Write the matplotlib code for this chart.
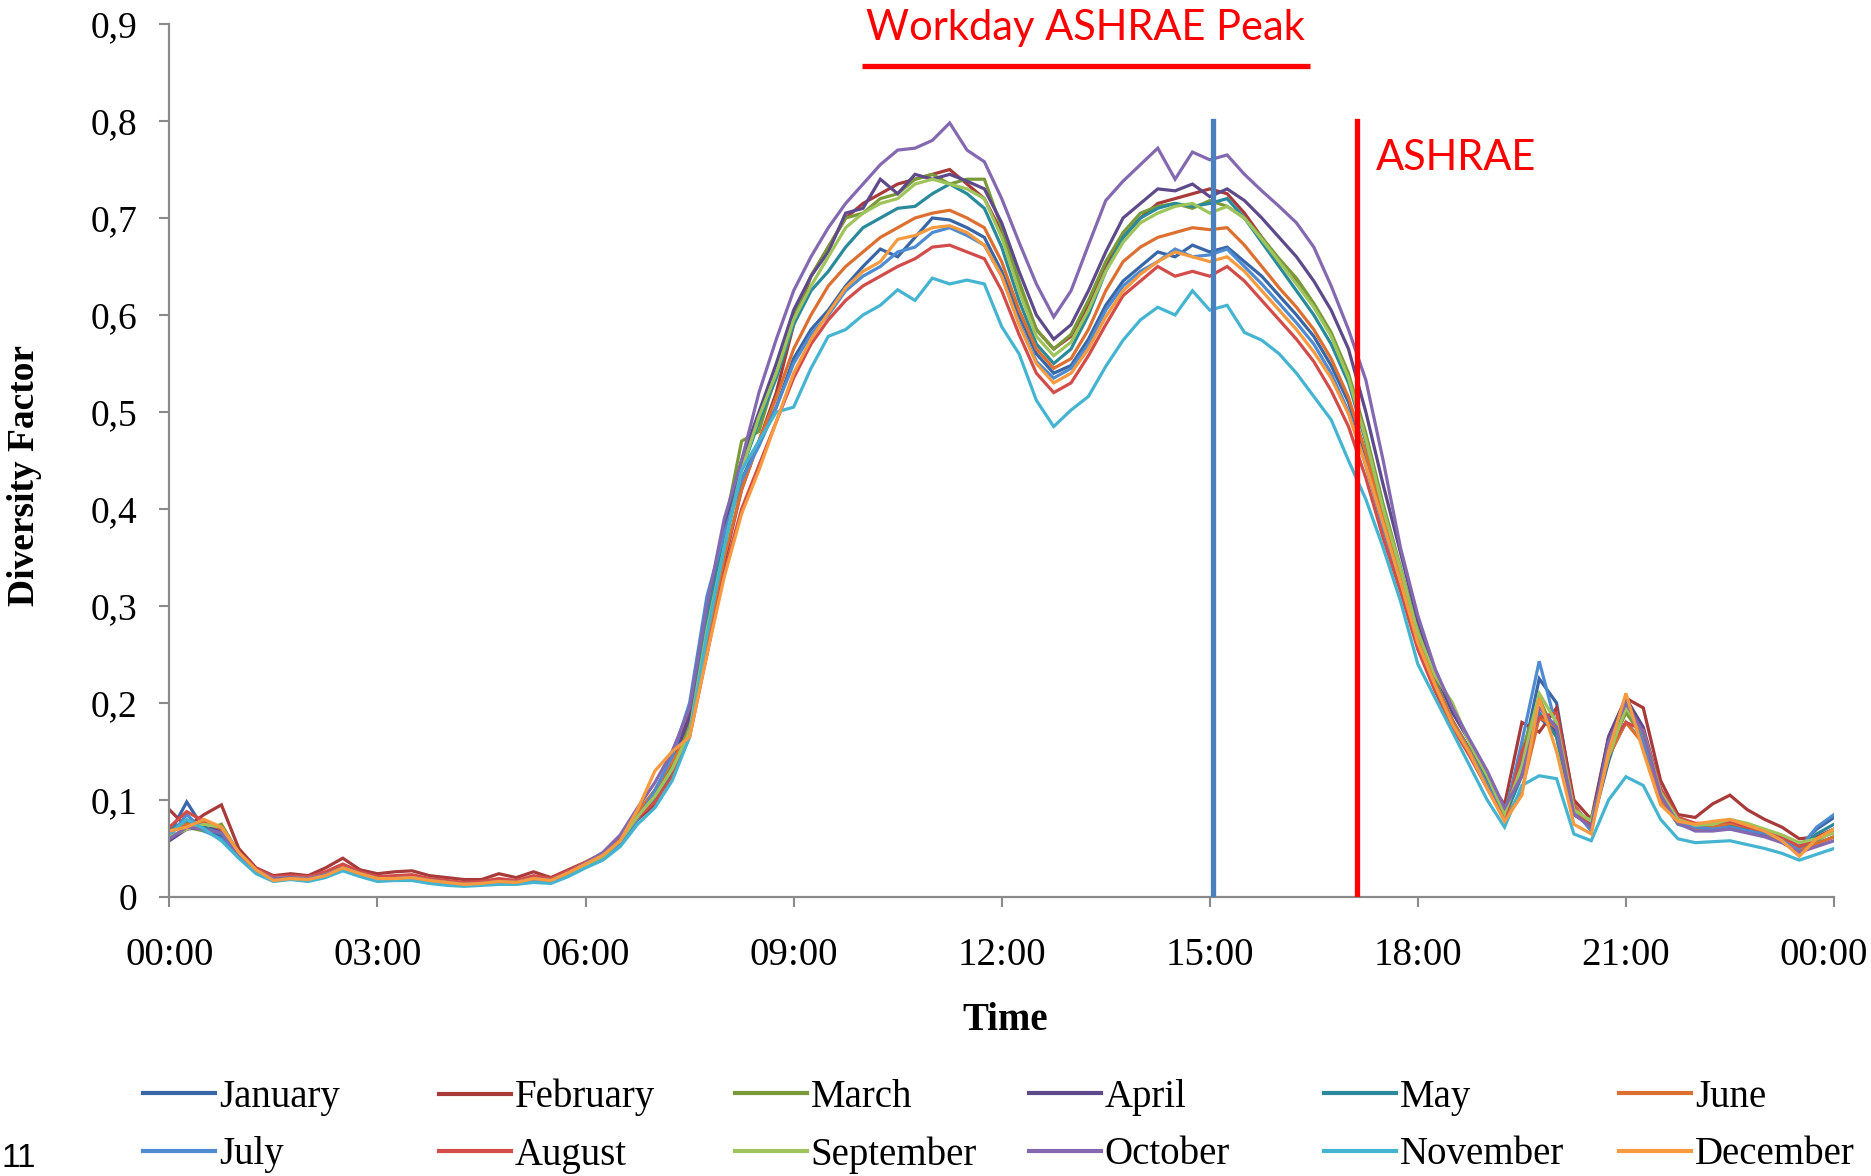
import numpy as np
import matplotlib
matplotlib.use("Agg")
import matplotlib.pyplot as plt
import matplotlib.transforms as mtransforms

# ---------------- data (15-minute resolution, 00:00 -> 24:00) ----------------
months = ["January", "February", "March", "April", "May", "June",
          "July", "August", "September", "October", "November", "December"]

january = [0.065, 0.098, 0.070, 0.062, 0.042, 0.026, 0.019, 0.022, 0.018, 0.022, 0.030, 0.024,
           0.019, 0.021, 0.019, 0.017, 0.015, 0.013, 0.014, 0.016, 0.015, 0.018, 0.017, 0.024,
           0.033, 0.042, 0.058, 0.080, 0.100, 0.130, 0.190, 0.300, 0.370, 0.430, 0.470, 0.505,
           0.555, 0.585, 0.605, 0.630, 0.650, 0.668, 0.660, 0.680, 0.700, 0.698, 0.690, 0.680,
           0.645, 0.600, 0.560, 0.540, 0.548, 0.575, 0.610, 0.635, 0.650, 0.665, 0.660, 0.672,
           0.665, 0.670, 0.655, 0.640, 0.620, 0.600, 0.578, 0.548, 0.510, 0.455, 0.390, 0.330,
           0.265, 0.220, 0.180, 0.150, 0.118, 0.085, 0.140, 0.225, 0.200, 0.095, 0.072, 0.140,
           0.195, 0.165, 0.110, 0.080, 0.075, 0.072, 0.070, 0.068, 0.065, 0.062, 0.052, 0.070,
           0.082]
february = [0.090, 0.072, 0.085, 0.095, 0.050, 0.030, 0.022, 0.024, 0.022, 0.030, 0.040, 0.028,
            0.024, 0.026, 0.027, 0.022, 0.020, 0.018, 0.018, 0.024, 0.020, 0.026, 0.020, 0.028,
            0.036, 0.045, 0.060, 0.080, 0.095, 0.150, 0.190, 0.250, 0.345, 0.420, 0.470, 0.520,
            0.590, 0.640, 0.670, 0.700, 0.715, 0.725, 0.735, 0.740, 0.745, 0.750, 0.735, 0.720,
            0.685, 0.630, 0.585, 0.565, 0.578, 0.610, 0.650, 0.680, 0.700, 0.715, 0.720, 0.725,
            0.730, 0.725, 0.705, 0.680, 0.655, 0.635, 0.610, 0.580, 0.535, 0.470, 0.395, 0.330,
            0.270, 0.222, 0.180, 0.150, 0.122, 0.095, 0.180, 0.170, 0.195, 0.100, 0.080, 0.165,
            0.205, 0.195, 0.120, 0.085, 0.082, 0.096, 0.105, 0.090, 0.080, 0.072, 0.060, 0.062,
            0.070]
march = [0.060, 0.072, 0.068, 0.075, 0.045, 0.028, 0.020, 0.020, 0.019, 0.023, 0.031, 0.024,
         0.020, 0.019, 0.020, 0.018, 0.016, 0.014, 0.015, 0.016, 0.016, 0.019, 0.018, 0.025,
         0.034, 0.044, 0.062, 0.088, 0.108, 0.135, 0.180, 0.300, 0.380, 0.470, 0.480, 0.540,
         0.600, 0.640, 0.670, 0.700, 0.705, 0.720, 0.725, 0.740, 0.745, 0.735, 0.740, 0.740,
         0.690, 0.635, 0.585, 0.565, 0.580, 0.615, 0.655, 0.685, 0.705, 0.712, 0.715, 0.710,
         0.718, 0.712, 0.700, 0.680, 0.658, 0.638, 0.612, 0.582, 0.540, 0.478, 0.405, 0.340,
         0.275, 0.228, 0.192, 0.160, 0.124, 0.088, 0.150, 0.205, 0.165, 0.085, 0.080, 0.150,
         0.190, 0.165, 0.108, 0.080, 0.074, 0.076, 0.078, 0.072, 0.068, 0.062, 0.050, 0.058,
         0.068]
april = [0.058, 0.070, 0.072, 0.068, 0.044, 0.027, 0.019, 0.020, 0.019, 0.023, 0.030, 0.024,
         0.019, 0.020, 0.020, 0.017, 0.015, 0.013, 0.014, 0.016, 0.015, 0.019, 0.017, 0.025,
         0.034, 0.043, 0.058, 0.085, 0.110, 0.140, 0.185, 0.290, 0.380, 0.450, 0.500, 0.550,
         0.605, 0.640, 0.665, 0.705, 0.710, 0.740, 0.725, 0.745, 0.740, 0.745, 0.738, 0.730,
         0.695, 0.645, 0.600, 0.575, 0.590, 0.625, 0.665, 0.700, 0.715, 0.730, 0.728, 0.735,
         0.722, 0.730, 0.718, 0.700, 0.680, 0.660, 0.635, 0.605, 0.565, 0.500, 0.425, 0.355,
         0.285, 0.232, 0.190, 0.160, 0.128, 0.090, 0.130, 0.185, 0.170, 0.085, 0.075, 0.165,
         0.205, 0.175, 0.110, 0.078, 0.070, 0.070, 0.072, 0.068, 0.064, 0.058, 0.048, 0.055,
         0.062]
may = [0.070, 0.078, 0.072, 0.065, 0.043, 0.026, 0.018, 0.021, 0.019, 0.023, 0.031, 0.024,
       0.019, 0.020, 0.021, 0.018, 0.015, 0.013, 0.014, 0.016, 0.016, 0.019, 0.018, 0.025,
       0.034, 0.042, 0.058, 0.082, 0.102, 0.128, 0.170, 0.285, 0.370, 0.440, 0.490, 0.535,
       0.590, 0.625, 0.645, 0.670, 0.690, 0.700, 0.710, 0.712, 0.725, 0.735, 0.725, 0.710,
       0.670, 0.615, 0.570, 0.550, 0.565, 0.600, 0.645, 0.680, 0.700, 0.710, 0.715, 0.712,
       0.715, 0.720, 0.700, 0.675, 0.650, 0.625, 0.600, 0.570, 0.530, 0.470, 0.400, 0.335,
       0.268, 0.222, 0.182, 0.152, 0.118, 0.082, 0.125, 0.190, 0.165, 0.088, 0.072, 0.145,
       0.180, 0.160, 0.102, 0.075, 0.070, 0.070, 0.074, 0.070, 0.066, 0.060, 0.050, 0.065,
       0.075]
june = [0.068, 0.075, 0.078, 0.070, 0.046, 0.028, 0.020, 0.021, 0.020, 0.024, 0.033, 0.025,
        0.020, 0.020, 0.021, 0.018, 0.016, 0.014, 0.015, 0.017, 0.016, 0.020, 0.018, 0.026,
        0.036, 0.045, 0.062, 0.088, 0.110, 0.140, 0.170, 0.260, 0.350, 0.420, 0.470, 0.515,
        0.565, 0.600, 0.630, 0.650, 0.665, 0.680, 0.690, 0.700, 0.705, 0.708, 0.700, 0.690,
        0.655, 0.605, 0.565, 0.545, 0.555, 0.585, 0.625, 0.655, 0.670, 0.680, 0.685, 0.690,
        0.688, 0.690, 0.672, 0.650, 0.628, 0.608, 0.585, 0.555, 0.515, 0.458, 0.390, 0.330,
        0.265, 0.220, 0.182, 0.150, 0.115, 0.080, 0.110, 0.185, 0.175, 0.095, 0.070, 0.145,
        0.180, 0.158, 0.100, 0.076, 0.070, 0.072, 0.076, 0.072, 0.066, 0.058, 0.048, 0.055,
        0.062]
july = [0.062, 0.085, 0.068, 0.060, 0.042, 0.025, 0.018, 0.020, 0.018, 0.022, 0.029, 0.023,
        0.018, 0.019, 0.019, 0.016, 0.014, 0.012, 0.013, 0.015, 0.014, 0.017, 0.016, 0.023,
        0.032, 0.040, 0.055, 0.080, 0.110, 0.145, 0.200, 0.310, 0.375, 0.430, 0.465, 0.505,
        0.550, 0.580, 0.600, 0.625, 0.640, 0.650, 0.665, 0.670, 0.685, 0.690, 0.682, 0.672,
        0.640, 0.592, 0.552, 0.535, 0.545, 0.570, 0.605, 0.630, 0.645, 0.655, 0.668, 0.660,
        0.662, 0.668, 0.650, 0.632, 0.612, 0.592, 0.570, 0.540, 0.500, 0.445, 0.380, 0.322,
        0.260, 0.215, 0.178, 0.148, 0.115, 0.082, 0.160, 0.243, 0.175, 0.090, 0.068, 0.155,
        0.200, 0.160, 0.110, 0.078, 0.072, 0.070, 0.072, 0.068, 0.066, 0.060, 0.050, 0.072,
        0.085]
august = [0.072, 0.088, 0.078, 0.070, 0.046, 0.029, 0.021, 0.022, 0.021, 0.026, 0.034, 0.026,
          0.021, 0.022, 0.023, 0.019, 0.017, 0.015, 0.016, 0.019, 0.017, 0.022, 0.019, 0.027,
          0.035, 0.044, 0.060, 0.082, 0.098, 0.125, 0.165, 0.250, 0.335, 0.400, 0.445, 0.490,
          0.535, 0.570, 0.595, 0.615, 0.630, 0.640, 0.650, 0.658, 0.670, 0.672, 0.665, 0.658,
          0.625, 0.580, 0.540, 0.520, 0.530, 0.558, 0.590, 0.620, 0.635, 0.650, 0.640, 0.645,
          0.640, 0.650, 0.635, 0.615, 0.595, 0.575, 0.552, 0.522, 0.485, 0.432, 0.370, 0.315,
          0.255, 0.212, 0.175, 0.145, 0.112, 0.080, 0.150, 0.185, 0.190, 0.092, 0.072, 0.155,
          0.180, 0.172, 0.112, 0.082, 0.076, 0.076, 0.078, 0.072, 0.068, 0.062, 0.052, 0.060,
          0.070]
september = [0.062, 0.070, 0.075, 0.072, 0.045, 0.027, 0.019, 0.020, 0.019, 0.023, 0.030, 0.024,
             0.019, 0.019, 0.020, 0.017, 0.015, 0.013, 0.014, 0.016, 0.015, 0.019, 0.017, 0.024,
             0.033, 0.042, 0.058, 0.083, 0.104, 0.132, 0.170, 0.275, 0.360, 0.440, 0.495, 0.540,
             0.595, 0.630, 0.660, 0.690, 0.705, 0.715, 0.720, 0.735, 0.740, 0.735, 0.730, 0.720,
             0.680, 0.625, 0.578, 0.558, 0.572, 0.605, 0.645, 0.675, 0.695, 0.705, 0.712, 0.715,
             0.705, 0.712, 0.700, 0.678, 0.655, 0.632, 0.608, 0.578, 0.535, 0.472, 0.400, 0.338,
             0.272, 0.228, 0.200, 0.158, 0.125, 0.086, 0.135, 0.210, 0.180, 0.090, 0.078, 0.145,
             0.195, 0.170, 0.108, 0.080, 0.074, 0.075, 0.080, 0.076, 0.070, 0.064, 0.056, 0.060,
             0.066]
october = [0.060, 0.072, 0.070, 0.066, 0.044, 0.027, 0.019, 0.020, 0.019, 0.023, 0.030, 0.024,
           0.019, 0.019, 0.020, 0.017, 0.015, 0.013, 0.014, 0.016, 0.015, 0.019, 0.017, 0.025,
           0.035, 0.046, 0.064, 0.092, 0.118, 0.150, 0.195, 0.300, 0.390, 0.450, 0.520, 0.575,
           0.625, 0.660, 0.690, 0.715, 0.735, 0.755, 0.770, 0.772, 0.780, 0.798, 0.770, 0.758,
           0.720, 0.675, 0.632, 0.598, 0.625, 0.672, 0.718, 0.738, 0.755, 0.772, 0.740, 0.768,
           0.760, 0.765, 0.745, 0.728, 0.712, 0.695, 0.670, 0.630, 0.585, 0.533, 0.450, 0.360,
           0.290, 0.235, 0.195, 0.162, 0.130, 0.092, 0.125, 0.195, 0.175, 0.085, 0.072, 0.160,
           0.200, 0.170, 0.105, 0.076, 0.068, 0.068, 0.070, 0.066, 0.062, 0.056, 0.046, 0.052,
           0.058]
november = [0.065, 0.080, 0.070, 0.058, 0.040, 0.024, 0.016, 0.018, 0.016, 0.020, 0.027, 0.021,
            0.016, 0.017, 0.017, 0.014, 0.012, 0.011, 0.012, 0.013, 0.013, 0.015, 0.014, 0.021,
            0.030, 0.038, 0.052, 0.075, 0.092, 0.120, 0.165, 0.270, 0.360, 0.440, 0.470, 0.500,
            0.505, 0.545, 0.578, 0.585, 0.600, 0.610, 0.626, 0.615, 0.638, 0.632, 0.636, 0.632,
            0.588, 0.560, 0.512, 0.485, 0.502, 0.516, 0.547, 0.574, 0.595, 0.608, 0.600, 0.625,
            0.605, 0.610, 0.582, 0.574, 0.560, 0.540, 0.516, 0.492, 0.450, 0.410, 0.360, 0.305,
            0.240, 0.205, 0.170, 0.135, 0.100, 0.072, 0.115, 0.125, 0.122, 0.065, 0.058, 0.100,
            0.124, 0.115, 0.080, 0.060, 0.056, 0.057, 0.058, 0.054, 0.050, 0.045, 0.038, 0.044,
            0.050]
december = [0.068, 0.072, 0.080, 0.072, 0.046, 0.028, 0.017, 0.019, 0.018, 0.022, 0.030, 0.024,
            0.019, 0.019, 0.020, 0.017, 0.015, 0.013, 0.014, 0.016, 0.015, 0.019, 0.017, 0.025,
            0.034, 0.043, 0.058, 0.090, 0.130, 0.150, 0.165, 0.250, 0.330, 0.395, 0.440, 0.490,
            0.540, 0.575, 0.602, 0.628, 0.645, 0.655, 0.678, 0.682, 0.690, 0.692, 0.685, 0.672,
            0.640, 0.590, 0.550, 0.530, 0.540, 0.565, 0.598, 0.625, 0.642, 0.655, 0.665, 0.660,
            0.655, 0.660, 0.645, 0.625, 0.605, 0.585, 0.562, 0.535, 0.498, 0.445, 0.385, 0.325,
            0.262, 0.218, 0.178, 0.148, 0.112, 0.078, 0.105, 0.205, 0.150, 0.075, 0.065, 0.150,
            0.210, 0.150, 0.095, 0.078, 0.075, 0.078, 0.080, 0.074, 0.068, 0.058, 0.042, 0.060,
            0.070]

series = [january, february, march, april, may, june,
          july, august, september, october, november, december]

x_tick_pos = [0, 3, 6, 9, 12, 15, 18, 21, 24]
x_tick_labels = ["00:00", "03:00", "06:00", "09:00", "12:00", "15:00", "18:00", "21:00", "00:00"]
y_tick_pos = [0, 0.1, 0.2, 0.3, 0.4, 0.5, 0.6, 0.7, 0.8, 0.9]
y_tick_labels = ["0", "0,1", "0,2", "0,3", "0,4", "0,5", "0,6", "0,7", "0,8", "0,9"]

peak_line_time = 15.04      # blue vertical line
ashrae_line_time = 17.12    # red vertical line
vline_top = 0.80
workday_start, workday_end, workday_level = 9.98, 16.44, 0.857

colors = ["#3866a6", "#a83a3a", "#7a9a3a", "#5e4a8a", "#2a8a9c", "#dc7030",
          "#4f8bd0", "#d24c4a", "#9fc45c", "#8468b0", "#45b4d0", "#f79a40"]

# ---------------- figure ----------------
W, H = 1871, 1176
fig = plt.figure(figsize=(W / 100, H / 100), dpi=100)
ax = fig.add_axes([169.4 / W, 1 - 897 / H, (1834 - 169.4) / W, (897 - 24) / H])

t = np.arange(len(january)) * 0.25
lines = []
for vals, name, c in zip(series, months, colors):
    ln, = ax.plot(t, vals, color=c, lw=2.3, label=name, solid_joinstyle="miter")
    lines.append(ln)

ax.plot([peak_line_time, peak_line_time], [0, vline_top], color="#4a7fc0", lw=3.8, zorder=5)
ax.plot([ashrae_line_time, ashrae_line_time], [0, vline_top], color="#ff0000", lw=3.8, zorder=5)
ax.plot([workday_start, workday_end], [workday_level, workday_level], color="#ff0000",
        lw=3.8, clip_on=False, solid_capstyle="butt", zorder=5)

ax.text((workday_start + workday_end) / 2, 0.896, "Workday ASHRAE Peak", color="#ff0000",
        fontsize=30, family="Lato", ha="center", va="center", clip_on=False)
ax.text(17.40, 0.762, "ASHRAE", color="#ff0000", fontsize=30, family="Lato",
        ha="left", va="center")

ax.set_xlim(0, 24)
ax.set_ylim(0, 0.9)
for s in ["top", "right"]:
    ax.spines[s].set_visible(False)
for s in ["left", "bottom"]:
    ax.spines[s].set_color("#8a8a8a")
    ax.spines[s].set_linewidth(1.6)

ax.set_xticks(x_tick_pos)
ax.set_xticklabels(x_tick_labels, family="Liberation Serif", fontsize=28)
ax.set_yticks(y_tick_pos)
ax.set_yticklabels(y_tick_labels, family="Liberation Serif", fontsize=27)
ax.tick_params(axis="x", direction="out", length=7, width=1.5, color="#8a8a8a", pad=22)
ax.tick_params(axis="y", direction="out", length=7, width=1.5, color="#8a8a8a", pad=16)
last = ax.get_xticklabels()[-1]
last.set_transform(last.get_transform() +
                   mtransforms.ScaledTranslation(-10 / 100, 0, fig.dpi_scale_trans))

ax.set_xlabel("Time", family="Liberation Serif", fontsize=28, fontweight="bold")
ax.xaxis.set_label_coords(0.502, -0.141)
ax.xaxis.label.set_verticalalignment("center")
ax.set_ylabel("Diversity Factor", family="Liberation Serif", fontsize=27, fontweight="bold")
ax.yaxis.set_label_coords(-0.087, 0.483)
ax.yaxis.label.set_verticalalignment("center")

# legend: 6 columns x 2 rows, filled row-wise
col_x = [143, 439, 735, 1029, 1324, 1619]
for j in range(6):
    leg = fig.legend([lines[j], lines[j + 6]], [months[j], months[j + 6]],
                     loc="upper left", bbox_to_anchor=(col_x[j] / W, 1 - 1079 / H),
                     frameon=False, handlelength=1.85, handletextpad=0.1,
                     borderpad=0, borderaxespad=0, labelspacing=0.52,
                     prop={"family": "Liberation Serif", "size": 28})
    for lh in leg.get_lines():
        lh.set_linewidth(3.0)

fig.text(1 / W, 2 / H, "11", family="Liberation Sans", fontsize=24,
         ha="left", va="bottom", color="black")

fig.savefig("out.png", dpi=100, facecolor="white")
